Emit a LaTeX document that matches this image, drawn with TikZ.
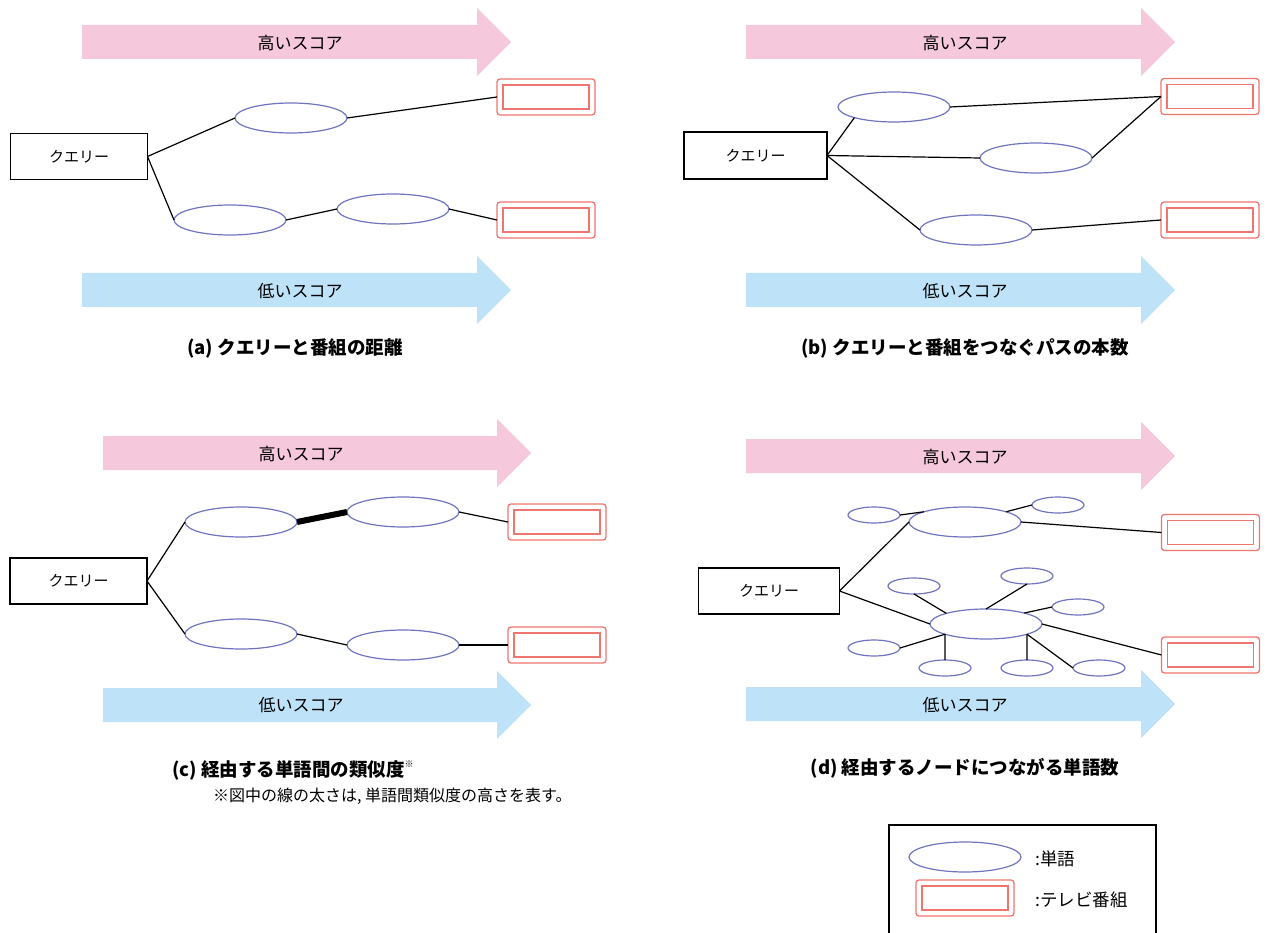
\documentclass[tikz,border=0pt]{standalone}
\usepackage{fontspec}
\setmainfont{Noto Sans CJK JP}
\usetikzlibrary{shapes.geometric}
\definecolor{pinkA}{HTML}{F5C8DC}
\definecolor{blueA}{HTML}{BEE3F8}
\definecolor{wordc}{HTML}{6F74BE}
\definecolor{tvred}{HTML}{EF7670}
\newcommand{\fsz}[1]{\fontsize{#1}{#1}\selectfont}
\newcommand{\ScoreArrow}[5]{%
  \fill[#5] (#1,#4-17) -- (#2,#4-17) -- (#2,#4-34) -- (#3,#4) -- (#2,#4+34) -- (#2,#4+17) -- (#1,#4+17) -- cycle;}
\begin{document}
\begin{tikzpicture}[x=1pt,y=-1pt,
  query/.style={draw, line width=1.3pt, minimum width=137pt, minimum height=46pt, inner sep=0pt, outer sep=0pt, font=\fsz{15}},
  word/.style={ellipse, draw=wordc, line width=1.2pt, minimum width=112pt, minimum height=30pt, inner sep=0pt, outer sep=0pt, fill=white},
  sword/.style={word, minimum width=52pt, minimum height=16pt},
  tv/.style={draw=tvred, line width=1.3pt, rounded corners=3pt, minimum width=98pt, minimum height=36pt, inner sep=0pt, outer sep=0pt, fill=white,
    path picture={\draw[tvred, line width=1.3pt, sharp corners] ([shift={(6pt,6pt)}]path picture bounding box.south west) rectangle ([shift={(-6pt,-6pt)}]path picture bounding box.north east);}},
  link/.style={line width=1.2pt},
  thicklink/.style={line width=6pt},
  arrowtxt/.style={font=\fsz{17}, inner sep=0pt},
  captxt/.style={font=\fsz{18.5}\bfseries, inner sep=0pt},
  notetxt/.style={font=\fsz{16}, inner sep=0pt},
  legtxt/.style={font=\fsz{17.5}, inner sep=0pt, anchor=west}]
\useasboundingbox (0,0) rectangle (1272,933);

% ---------- arrows ----------
\ScoreArrow{82}{477}{511}{42}{pinkA}
\ScoreArrow{82}{477}{511}{290}{blueA}
\ScoreArrow{746}{1141}{1175}{42}{pinkA}
\ScoreArrow{746}{1141}{1175}{290}{blueA}
\ScoreArrow{103}{497}{531}{453}{pinkA}
\ScoreArrow{103}{497}{531}{705}{blueA}
\ScoreArrow{746}{1141}{1175}{456}{pinkA}
\ScoreArrow{746}{1141}{1175}{704}{blueA}
\node[arrowtxt] (ta1) at (300,43) {高いスコア};
\node[arrowtxt] (ta2) at (300,291) {低いスコア};
\node[arrowtxt] (tb1) at (965,43) {高いスコア};
\node[arrowtxt] (tb2) at (965,291) {低いスコア};
\node[arrowtxt] (tc1) at (301,454) {高いスコア};
\node[arrowtxt] (tc2) at (301,705) {低いスコア};
\node[arrowtxt] (td1) at (965,457) {高いスコア};
\node[arrowtxt] (td2) at (965,705) {低いスコア};

% ---------- panel (a) ----------
\node[query] (qa) at (79,156.5) {クエリー};
\node[word] (a1) at (291,118) {};
\node[word] (a2) at (230,220) {};
\node[word] (a3) at (393,209) {};
\node[tv] (tva1) at (546,97) {};
\node[tv] (tva2) at (546,220) {};
\draw[link] (qa.east) -- (a1.west);
\draw[link] (qa.east) -- (a2.west);
\draw[link] (a1.east) -- (tva1.west);
\draw[link] (a2.east) -- (a3.west);
\draw[link] (a3.east) -- (tva2.west);
\node[captxt] (capa) at (295,348) {(a) クエリーと番組の距離};

% ---------- panel (b) ----------
\node[query, minimum width=143pt, minimum height=47pt] (qb) at (755.5,155.5) {クエリー};
\node[word] (b1) at (894,107) {};
\node[word] (b2) at (1036,158) {};
\node[word] (b3) at (976,230) {};
\node[tv] (tvb1) at (1210,96.5) {};
\node[tv] (tvb2) at (1210,220) {};
\draw[link] (qb.east) -- (b1.195);
\draw[link] (qb.east) -- (b2.west);
\draw[link] (qb.east) -- (b3.west);
\draw[link] (b1.east) -- (tvb1.west);
\draw[link] (b2.east) -- (tvb1.west);
\draw[link] (b3.east) -- (tvb2.west);
\node[captxt] (capb) at (965,348) {(b) クエリーと番組をつなぐパスの本数};

% ---------- panel (c) ----------
\node[query] (qc) at (78.5,581) {クエリー};
\node[word] (c1) at (241,522) {};
\node[word] (c2) at (403,512) {};
\node[word] (c3) at (241,634) {};
\node[word] (c4) at (403,645) {};
\node[tv] (tvc1) at (557,522) {};
\node[tv] (tvc2) at (557,645) {};
\draw[link] (qc.east) -- (c1.west);
\draw[link] (qc.east) -- (c3.west);
\draw[thicklink] (c1.east) -- (c2.west);
\draw[link] (c2.east) -- (tvc1.west);
\draw[link] (c3.east) -- (c4.west);
\draw[link] (c4.east) -- (tvc2.west);
\node[captxt, anchor=west] (capc) at (172,770) {(c) 経由する単語間の類似度\raisebox{0.45em}{\fsz{9}\mdseries ※}};
\node[notetxt, anchor=west] (notec) at (213,796) {※図中の線の太さは, 単語間類似度の高さを表す。};

% ---------- panel (d) ----------
\node[query, minimum width=141pt] (qd) at (769,591) {クエリー};
\node[word] (d1) at (965,522) {};
\node[word] (d2) at (986,624) {};
\node[sword] (sl) at (874,515) {};
\node[sword] (sr) at (1058,505) {};
\node[sword] (s1) at (914,586) {};
\node[sword] (s2) at (1027,576) {};
\node[sword] (s3) at (1078,607) {};
\node[sword] (s4) at (874,648) {};
\node[sword] (s5) at (945,668) {};
\node[sword] (s6) at (1027,668) {};
\node[sword] (s7) at (1099,668) {};
\node[tv] (tvd1) at (1210.5,532.5) {};
\node[tv] (tvd2) at (1210.5,655) {};
\draw[link] (qd.east) -- (d1.west);
\draw[link] (qd.east) -- (d2.west);
\draw[link] (sl.east) -- (d1.166);
\draw[link] (d1.14) -- (sr.west);
\draw[link] (d1.east) -- (tvd1.west);
\draw[link] (s1.south) -- (d2.165);
\draw[link] (s2.south) -- (d2.north);
\draw[link] (s3.west) -- (d2.16);
\draw[link] (s4.east) -- (d2.194);
\draw[link] (s5.north) -- (d2.194);
\draw[link] (s6.north) -- (d2.346);
\draw[link] (s7.west) -- (d2.346);
\draw[link] (d2.east) -- (tvd2.west);
\node[captxt] (capd) at (965,768) {(d) 経由するノードにつながる単語数};

% ---------- legend ----------
\draw[line width=1.3pt] (889,933) -- (889,825) -- (1156,825) -- (1156,933);
\node[word] (lw) at (965,857) {};
\node[tv] (ltv) at (965,898) {};
\node[legtxt] (lwt) at (1035,859) {:単語};
\node[legtxt] (ltvt) at (1035,900) {:テレビ番組};
\end{tikzpicture}
\end{document}
